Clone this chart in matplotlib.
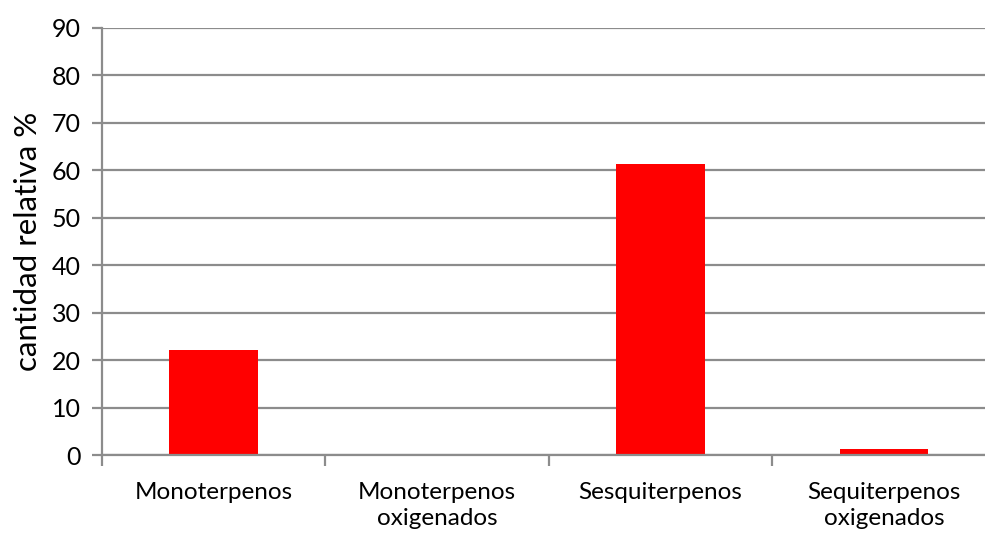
import matplotlib
matplotlib.use("Agg")
import matplotlib.pyplot as plt
from matplotlib.ticker import FixedLocator

categories = ["Monoterpenos", "Monoterpenos\noxigenados", "Sesquiterpenos", "Sequiterpenos\noxigenados"]
values = [22.2, 0.0, 61.4, 1.25]
y_ticks = [0, 10, 20, 30, 40, 50, 60, 70, 80, 90]

plt.rcParams['font.family'] = ['Lato', 'DejaVu Sans']

fig = plt.figure(figsize=(9.85, 5.33), dpi=100)
ax = fig.add_axes([0.1033, 0.1463, 0.9075, 0.8012])

grid_c = "#8c8c8c"
x = list(range(len(categories)))
ax.bar(x, values, width=0.397, color="#ff0000", zorder=3)

ax.set_xlim(-0.5, len(categories) - 0.5)
ax.set_ylim(0, 90)
ax.set_yticks(y_ticks)
ax.yaxis.grid(True, color=grid_c, linewidth=1.6, zorder=1)
ax.set_axisbelow(True)

ax.set_xticks(x)
ax.set_xticklabels(categories, fontsize=17.5, linespacing=1.3)
ax.xaxis.set_minor_locator(FixedLocator([i - 0.5 for i in range(len(categories) + 1)]))
ax.tick_params(axis="x", which="major", length=0, pad=19.5)
ax.tick_params(axis="x", which="minor", length=8, width=1.6, color=grid_c)
ax.tick_params(axis="y", length=7, width=1.6, color=grid_c, labelsize=18, pad=8)

for s in ("top", "right"):
    ax.spines[s].set_visible(False)
for s in ("left", "bottom"):
    ax.spines[s].set_color(grid_c)
    ax.spines[s].set_linewidth(1.6)
    ax.spines[s].set_zorder(4)

ax.set_ylabel("cantidad relativa %", fontsize=22.5, labelpad=7)

fig.savefig("out.png", dpi=100)
